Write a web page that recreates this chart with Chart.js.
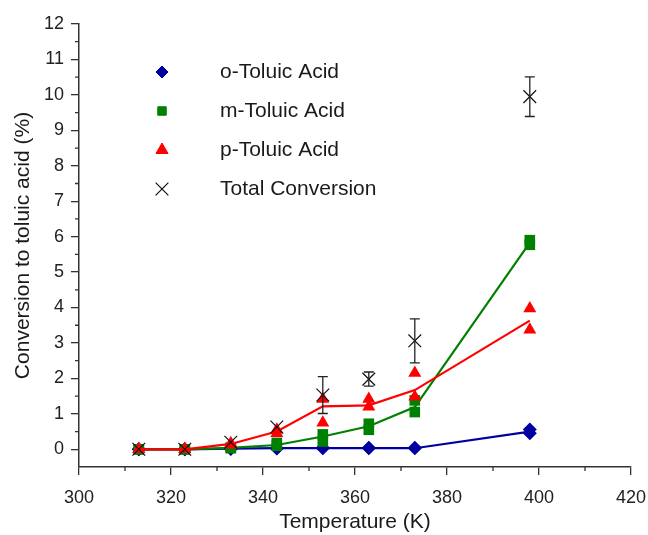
<!DOCTYPE html>
<html>
<head>
<meta charset="utf-8">
<script src="https://cdn.jsdelivr.net/npm/chart.js@4.4.1/dist/chart.umd.min.js"></script>
<style>
  html, body { margin: 0; padding: 0; background: #fff; }
  #wrap { width: 648px; height: 535px; }
</style>
</head>
<body>
<div id="wrap"><canvas id="conversionChart" width="648" height="535"></canvas></div>
<script>
// Temperatur (K)
const temps = [313, 323, 333, 343, 353, 363, 373, 398];

// o-Toluic acid: kurva rata-rata + dua ulangan
const oMean = [0, 0, 0.02, 0.03, 0.03, 0.03, 0.03, 0.5];
const oRunA = [0, 0, 0.01, 0.02, 0.03, 0.03, 0.03, 0.45];
const oRunB = [0, 0, 0.02, 0.03, 0.04, 0.04, 0.04, 0.56];

// m-Toluic acid
const mMean = [0, 0, 0.04, 0.12, 0.36, 0.65, 1.19, 5.83];
const mRunA = [0, 0, 0.03, 0.1, 0.22, 0.55, 1.05, 5.77];
const mRunB = [0, 0, 0.05, 0.18, 0.42, 0.72, 1.38, 5.9];

// p-Toluic acid
const pMean = [0, 0, 0.15, 0.5, 1.21, 1.24, 1.67, 3.63];
const pRunA = [0, 0, 0.13, 0.45, 0.75, 1.2, 1.48, 3.37];
const pRunB = [0, 0, 0.17, 0.55, 1.42, 1.42, 2.15, 3.97];

// Total conversion + error bar
const totalConv = [0, 0, 0.2, 0.63, 1.53, 1.98, 3.06, 9.95];
const totalErr = [0, 0, 0.04, 0.08, 0.52, 0.2, 0.62, 0.56];

// Label sumbu
const xTicks = [300, 320, 340, 360, 380, 400, 420];
const xMinorTicks = [310, 330, 350, 370, 390, 410];
const yTicks = [0, 1, 2, 3, 4, 5, 6, 7, 8, 9, 10, 11, 12];
const yMinorTicks = [0.5, 1.5, 2.5, 3.5, 4.5, 5.5, 6.5, 7.5, 8.5, 9.5, 10.5, 11.5];

const seriesNames = ['o-Toluic Acid', 'm-Toluic Acid', 'p-Toluic Acid', 'Total Conversion'];

const BLUE = 'rgb(0, 0, 160)';
const GREEN = 'rgb(0, 128, 0)';
const RED = 'rgb(255, 0, 0)';
const BLACK = '#111';
const FONT = "'Liberation Sans', Arial, sans-serif";

const pts = (ys) => temps.map((t, i) => ({ x: t, y: ys[i] }));
const runs = (a, b) => pts(a).concat(pts(b));

// Plugin: minor ticks, error bar, legenda di dalam area plot
const extrasPlugin = {
    id: 'extras',
    afterDatasetsDraw(chart) {
        const { ctx, scales: { x, y } } = chart;
        ctx.save();
        ctx.strokeStyle = '#222';
        ctx.lineWidth = 1.3;
        totalConv.forEach((v, i) => {
            const e = totalErr[i];
            if (e < 0.1) return;
            const px = x.getPixelForValue(temps[i]);
            const top = y.getPixelForValue(v + e);
            const bot = y.getPixelForValue(v - e);
            ctx.beginPath();
            ctx.moveTo(px, top); ctx.lineTo(px, bot);
            ctx.moveTo(px - 5, top); ctx.lineTo(px + 5, top);
            ctx.moveTo(px - 5, bot); ctx.lineTo(px + 5, bot);
            ctx.stroke();
        });
        ctx.restore();
    },
    afterDraw(chart) {
        const { ctx, scales: { x, y } } = chart;
        ctx.save();
        ctx.strokeStyle = '#333';
        ctx.lineWidth = 1.3;
        ctx.beginPath();
        xMinorTicks.forEach(v => {
            const px = x.getPixelForValue(v);
            ctx.moveTo(px, x.top); ctx.lineTo(px, x.top + 4);
        });
        yMinorTicks.forEach(v => {
            const py = y.getPixelForValue(v);
            ctx.moveTo(y.right, py); ctx.lineTo(y.right - 4, py);
        });
        ctx.stroke();

        // legenda
        const styles = chart.data.datasets.filter(d => d.legendIndex !== undefined)
            .sort((a, b) => a.legendIndex - b.legendIndex);
        const rowsY = [72, 111, 150, 189];
        ctx.font = '21px ' + FONT;
        ctx.textBaseline = 'middle';
        styles.forEach((d, i) => {
            ctx.strokeStyle = d.borderColor;
            ctx.fillStyle = d.backgroundColor;
            ctx.lineWidth = d.borderWidth || 1;
            Chart.helpers.drawPoint(ctx, {
                pointStyle: d.pointStyle,
                radius: d.legendRadius,
                rotation: 0,
                borderWidth: d.borderWidth || 1
            }, 162, rowsY[i]);
            ctx.fillStyle = '#1a1a1a';
            ctx.fillText(seriesNames[i], 220, rowsY[i]);
        });
        ctx.restore();
    }
};

const ctx = document.getElementById('conversionChart').getContext('2d');
const conversionChart = new Chart(ctx, {
    type: 'scatter',
    data: {
        datasets: [
            // garis rata-rata
            { type: 'line', data: pts(oMean), borderColor: BLUE, borderWidth: 2.2, pointRadius: 0, order: 6 },
            { type: 'line', data: pts(mMean), borderColor: GREEN, borderWidth: 2.2, pointRadius: 0, order: 5 },
            { type: 'line', data: pts(pMean), borderColor: RED, borderWidth: 2.2, pointRadius: 0, order: 3 },
            // titik ulangan
            { data: runs(oRunA, oRunB), pointStyle: 'rectRot', pointRadius: 7, legendRadius: 6,
              backgroundColor: BLUE, borderColor: BLUE, borderWidth: 0, order: 7, legendIndex: 0 },
            { data: runs(mRunA, mRunB), pointStyle: 'rect', pointRadius: 7.5, legendRadius: 6,
              backgroundColor: GREEN, borderColor: GREEN, borderWidth: 0, order: 4, legendIndex: 1 },
            { data: runs(pRunA, pRunB), pointStyle: 'triangle', pointRadius: 7.5, legendRadius: 7,
              backgroundColor: RED, borderColor: RED, borderWidth: 0, order: 2, legendIndex: 2 },
            { data: pts(totalConv), pointStyle: 'crossRot', pointRadius: 9, legendRadius: 9,
              backgroundColor: BLACK, borderColor: BLACK, borderWidth: 1.2, order: 1, legendIndex: 3 }
        ]
    },
    options: {
        responsive: false,
        animation: false,
        layout: { padding: { top: 24, right: 17, left: 0, bottom: 0 } },
        plugins: {
            legend: { display: false },
            tooltip: { enabled: false }
        },
        scales: {
            x: {
                type: 'linear',
                min: 300,
                max: 420,
                afterBuildTicks: (scale) => { scale.ticks = xTicks.map(v => ({ value: v })); },
                afterFit: (scale) => { scale.height = 68; scale.paddingRight = 0; scale.paddingLeft = 0; },
                grid: { drawOnChartArea: false, tickLength: 8, color: '#333', lineWidth: 1.3 },
                border: { color: '#333', width: 1.5 },
                ticks: { color: '#222', font: { family: FONT, size: 18 }, padding: 12, maxRotation: 0 },
                title: {
                    display: true,
                    text: 'Temperature (K)',
                    color: '#1a1a1a',
                    font: { family: FONT, size: 21 },
                    padding: { top: 0, bottom: 0 }
                }
            },
            y: {
                type: 'linear',
                min: -0.5,
                max: 12,
                afterBuildTicks: (scale) => { scale.ticks = yTicks.map(v => ({ value: v })); },
                afterFit: (scale) => { scale.width = 79; },
                grid: { drawOnChartArea: false, tickLength: 8, color: '#333', lineWidth: 1.3 },
                border: { color: '#333', width: 1.5 },
                ticks: { color: '#222', font: { family: FONT, size: 18 }, padding: 7 },
                title: {
                    display: true,
                    text: 'Conversion to toluic acid (%)',
                    color: '#1a1a1a',
                    font: { family: FONT, size: 21 },
                    padding: { top: 11, bottom: 0 }
                }
            }
        }
    },
    plugins: [extrasPlugin]
});
</script>
</body>
</html>
